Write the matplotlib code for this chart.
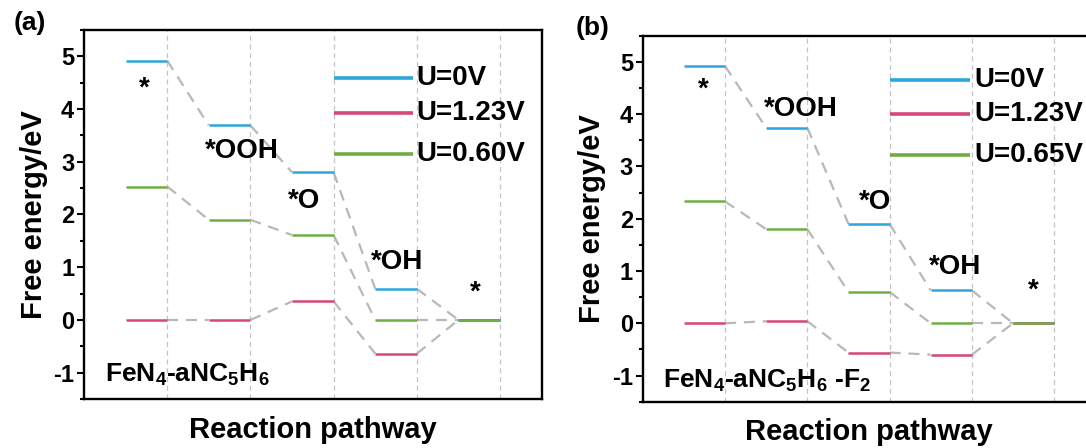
import matplotlib as mpl
mpl.use('Agg')
import matplotlib.pyplot as plt
from matplotlib.ticker import MultipleLocator

plt.rcParams['font.family'] = ['Liberation Sans', 'DejaVu Sans']
plt.rcParams['font.weight'] = 'bold'
plt.rcParams['axes.labelweight'] = 'bold'
plt.rcParams['axes.unicode_minus'] = False
plt.rcParams['mathtext.fontset'] = 'custom'
plt.rcParams['mathtext.rm'] = 'Liberation Sans:bold'
plt.rcParams['mathtext.default'] = 'rm'

BLUE = '#2ba7de'
PINK = '#d6457c'
GREEN = '#6fae45'

# free energy of each step: *, *OOH, *O, *OH, *
steps = ['*', '*OOH', '*O', '*OH', '*']

a_u0 = [4.92, 3.69, 2.80, 0.59, 0.0]
a_u123 = [0.0, 0.0, 0.35, -0.64, 0.0]
a_u060 = [2.53, 1.90, 1.61, 0.0, 0.0]
a_legend = ['U=0V', 'U=1.23V', 'U=0.60V']
a_name = 'FeN$_4$-aNC$_5$H$_6$'

b_u0 = [4.92, 3.74, 1.90, 0.63, 0.0]
b_u123 = [0.0, 0.04, -0.56, -0.60, 0.0]
b_u065 = [2.33, 1.80, 0.60, 0.0, 0.0]
b_legend = ['U=0V', 'U=1.23V', 'U=0.65V']
b_name = 'FeN$_4$-aNC$_5$H$_6$ -F$_2$'

# label positions (x, y) for the step names
a_step_pos = [(0.72, 4.38), (1.90, 3.20), (2.64, 2.26), (3.76, 1.09), (4.70, 0.52)]
b_step_pos = [(0.74, 4.47), (1.92, 4.09), (2.82, 2.32), (3.80, 1.08), (4.75, 0.63)]


def draw_path(ax, levels, color):
    n = len(levels)
    for i in range(n - 1):
        ax.plot([i + 1, i + 1.5], [levels[i], levels[i + 1]], color='#b8b8b8',
                lw=1.6, ls=(0, (5, 3.5)), zorder=1, solid_capstyle='butt')
    for i in range(n):
        ax.plot([i + 0.5, i + 1], [levels[i], levels[i]], color=color,
                lw=1.8, zorder=3, solid_capstyle='butt')


def draw(ax, series, colors, legend, legend_y, legend_end, step_pos, name, name_y, tag, tag_xy):
    for x in range(1, 6):
        ax.axvline(x, color='#c4c4c4', lw=0.9, ls=(0, (4, 3)), zorder=0)
    for levels, c in zip(series, colors):
        draw_path(ax, levels, c)
    for lab, y, c in zip(legend, legend_y, colors):
        ax.plot([3, legend_end], [y, y], color=c, lw=2.6, zorder=3, solid_capstyle='butt')
        ax.text(legend_end + 0.05, y, lab, fontsize=20, va='center', ha='left')
    for lab, (x, y) in zip(steps, step_pos):
        ax.text(x, y, lab, fontsize=20, ha='center', va='center')
    ax.text(0.25, name_y, name, fontsize=19, ha='left', va='center')

    ax.set_xlim(0, 5.5)
    ax.set_ylim(-1.5, 5.5)
    ax.set_xticks([])
    ax.yaxis.set_major_locator(MultipleLocator(1))
    ax.yaxis.set_minor_locator(MultipleLocator(0.5))
    ax.tick_params(axis='y', which='major', length=5, width=1.5, labelsize=17, pad=2)
    ax.tick_params(axis='y', which='minor', length=3, width=1.5)
    for s in ax.spines.values():
        s.set_linewidth(1.7)
    ax.set_ylabel('Free energy/eV', fontsize=21, labelpad=4)
    ax.set_xlabel('Reaction pathway', fontsize=21, labelpad=12)
    ax.text(tag_xy[0], tag_xy[1], tag, transform=ax.transAxes, fontsize=19,
            ha='center', va='center')


def main():
    fig = plt.figure(figsize=(10.86, 4.48), dpi=100)
    ax1 = fig.add_axes([0.0773, 0.1094, 0.4215, 0.8237])
    ax2 = fig.add_axes([0.5918, 0.1033, 0.4168, 0.8170])
    colors = [BLUE, PINK, GREEN]
    draw(ax1, [a_u0, a_u123, a_u060], colors, a_legend, [4.58, 3.92, 3.15], 3.95,
         a_step_pos, a_name, -1.05, '(a)', (-0.118, 1.018))
    draw(ax2, [b_u0, b_u123, b_u065], colors, b_legend, [4.66, 4.00, 3.22], 3.98,
         b_step_pos, b_name, -1.10, '(b)', (-0.11, 1.022))
    fig.savefig('out.png', dpi=100)


if __name__ == '__main__':
    main()
